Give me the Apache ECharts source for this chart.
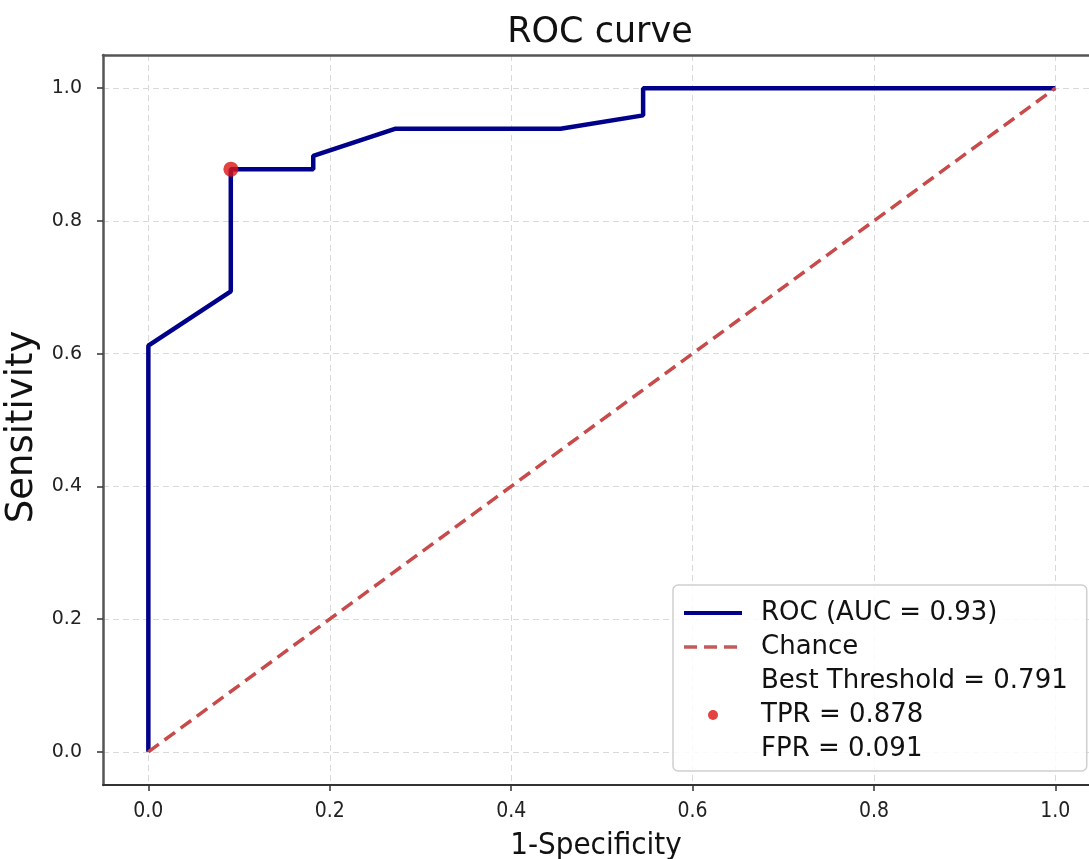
<!DOCTYPE html>
<html>
<head>
<meta charset="utf-8">
<script src="https://cdn.jsdelivr.net/npm/echarts@6/dist/echarts.min.js"></script>
<style>html,body{margin:0;padding:0;background:#fff}#c{width:1089px;height:859px}</style>
</head>
<body>
<div id="c"></div>
<script>
// ROC curve data (FPR = 1-Specificity, TPR = Sensitivity)
const fpr = [0, 0, 0.0909, 0.0909, 0.1818, 0.1818, 0.2727, 0.4545, 0.5455, 0.5455, 1.0];
const tpr = [0, 0.612, 0.694, 0.878, 0.878, 0.898, 0.939, 0.939, 0.959, 1.0, 1.0];
const chanceX = [0, 1];
const chanceY = [0, 1];
const bestPoint = [0.091, 0.878];
const tickValues = [0, 0.2, 0.4, 0.6, 0.8, 1.0];
const rocName = 'ROC (AUC = 0.93)';
const chanceName = 'Chance';
const bestName = 'Best Threshold = 0.791\nTPR = 0.878\nFPR = 0.091';

const FONT = 'DejaVu Sans';
const CFONT = 'DejaVu Sans Condensed, DejaVu Sans';
const chart = echarts.init(document.getElementById('c'), null, {renderer: 'canvas'});

const gridLine = {show: true, lineStyle: {color: '#d9d9d9', type: [6, 4], width: 1}};

const option = {
  backgroundColor: '#ffffff',
  animation: false,
  title: {
    text: 'ROC curve', left: 595, top: 10, textAlign: 'center',
    textStyle: {fontFamily: FONT, fontSize: 35, fontWeight: 'normal', color: '#111'}
  },
  grid: {left: 103, top: 55, width: 986, height: 730, containLabel: false, outerBoundsMode: 'none'},
  xAxis: [{
    type: 'value', min: -0.05, max: 1.0371, position: 'bottom',
    name: '1-Specificity', nameLocation: 'middle', nameGap: 45,
    nameTextStyle: {fontFamily: CFONT, fontSize: 31, color: '#111'},
    axisLine: {show: true, onZero: false, lineStyle: {color: '#333', width: 2}},
    axisTick: {show: true, length: 6, customValues: tickValues, lineStyle: {color: '#333', width: 1.5}},
    axisLabel: {customValues: tickValues, margin: 16, formatter: v => v.toFixed(1),
      fontFamily: CFONT, fontSize: 21, color: '#222'},
    splitLine: gridLine
  }, {
    type: 'value', min: -0.05, max: 1.0371, position: 'top',
    axisLine: {show: true, onZero: false, lineStyle: {color: '#555', width: 2.5}},
    axisTick: {show: false}, axisLabel: {show: false}, splitLine: {show: false}
  }],
  yAxis: [{
    type: 'value', min: -0.05, max: 1.05, position: 'left',
    name: 'Sensitivity', nameLocation: 'middle', nameGap: 55, nameRotate: 90,
    nameTextStyle: {fontFamily: FONT, fontSize: 37, color: '#111', padding: [0, 14, 0, 0]},
    axisLine: {show: true, onZero: false, lineStyle: {color: '#555', width: 2.5}},
    axisTick: {show: true, length: 6, customValues: tickValues, lineStyle: {color: '#333', width: 1.5}},
    axisLabel: {customValues: tickValues, margin: 21, formatter: v => v.toFixed(1),
      fontFamily: FONT, fontSize: 19, color: '#222'},
    splitLine: gridLine
  }],
  legend: {
    orient: 'vertical', left: 673, top: 585,
    backgroundColor: 'rgba(255,255,255,0.85)', borderColor: '#cfcfcf', borderWidth: 1.5, borderRadius: 5,
    padding: [11, 19, 5, 9], itemGap: 0, itemWidth: 58, itemHeight: 10,
    textStyle: {fontFamily: FONT, fontSize: 26, color: '#111', lineHeight: 34, padding: [0, 0, 0, 14]},
    data: [
      {name: rocName, itemStyle: {opacity: 0}, lineStyle: {width: 4, color: '#00008b'}},
      {name: chanceName, itemStyle: {opacity: 0}, lineStyle: {width: 3.5, color: '#c45a5a', type: [13, 7]}},
      {name: bestName}
    ]
  },
  series: [{
    name: rocName, type: 'line', xAxisIndex: 0, yAxisIndex: 0,
    data: fpr.map((x, i) => [x, tpr[i]]),
    showSymbol: false, symbol: 'none',
    lineStyle: {color: '#00008b', width: 4.5}, itemStyle: {color: '#00008b'}, z: 2
  }, {
    name: chanceName, type: 'line',
    data: chanceX.map((x, i) => [x, chanceY[i]]),
    showSymbol: false, symbol: 'none',
    lineStyle: {color: '#c94a4a', width: 3.5, type: [13, 7]}, itemStyle: {color: '#c94a4a'}, z: 3
  }, {
    name: bestName, type: 'scatter',
    data: [bestPoint], symbol: 'circle', symbolSize: 15,
    itemStyle: {color: '#dd1111'}, z: 4
  }]
};
chart.setOption(option);
</script>
</body>
</html>
